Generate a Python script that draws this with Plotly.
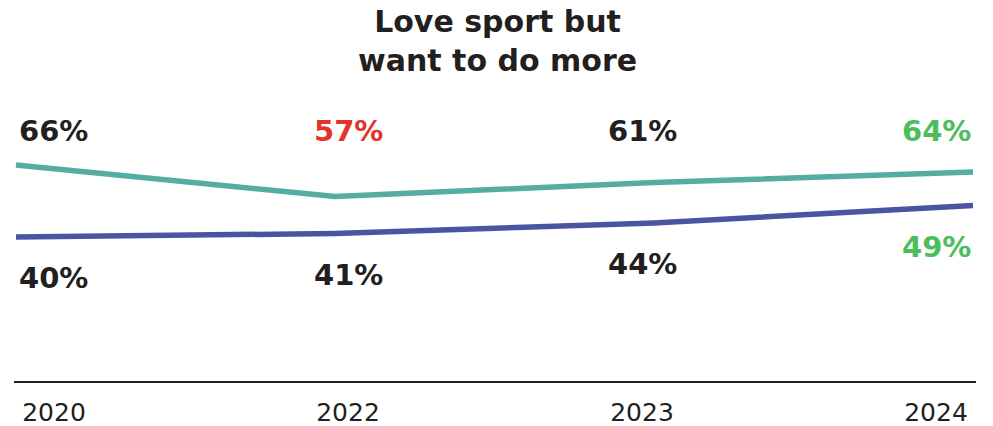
import plotly.graph_objects as go

# Survey years and shares (%)
years = ["2020", "2022", "2023", "2024"]
love_sport = [66, 57, 61, 64]
want_more = [40, 41, 44, 49]

# Label colours per year
love_label_colors = ["#231F20", "#E5332A", "#231F20", "#4BBE5B"]
more_label_colors = ["#231F20", "#231F20", "#231F20", "#4BBE5B"]

TEAL = "#55ACA1"
NAVY = "#4A54A0"
INK = "#231F20"
BOLD_FONT = "DejaVu Sans"

idx = list(range(len(years)))

fig = go.Figure()

fig.add_trace(go.Scatter(
    x=idx, y=love_sport, mode="lines",
    line=dict(color=TEAL, width=5.5),
    xaxis="x", yaxis="y2", hoverinfo="skip", showlegend=False,
))
fig.add_trace(go.Scatter(
    x=idx, y=want_more, mode="lines",
    line=dict(color=NAVY, width=5.5),
    xaxis="x", yaxis="y", hoverinfo="skip", showlegend=False,
))
# invisible trace anchoring the category axis used for labels
fig.add_trace(go.Scatter(
    x=years, y=want_more, mode="markers", marker=dict(opacity=0),
    xaxis="x2", yaxis="y", hoverinfo="skip", showlegend=False,
))

annotations = [dict(
    text="Love sport but<br>want to do more",
    x=0.5025, xref="paper", y=1.21, yref="paper",
    xanchor="center", yanchor="middle", showarrow=False,
    font=dict(family=BOLD_FONT, size=30, color=INK, weight="bold"),
)]
for i, (v, c) in enumerate(zip(love_sport, love_label_colors)):
    annotations.append(dict(
        x=i, xref="x2", y=0.8897, yref="paper",
        text=f"{v}%", showarrow=False,
        font=dict(family=BOLD_FONT, size=29, color=c, weight="bold"),
        xanchor="center", yanchor="middle",
    ))
for i, (v, c) in enumerate(zip(want_more, more_label_colors)):
    annotations.append(dict(
        x=i, xref="x2", y=v, yref="y", yshift=-41,
        text=f"{v}%", showarrow=False,
        font=dict(family=BOLD_FONT, size=29, color=c, weight="bold"),
        xanchor="center", yanchor="middle",
    ))

fig.update_layout(
    width=993, height=426,
    margin=dict(l=14, r=17, t=100, b=45),
    paper_bgcolor="white", plot_bgcolor="white",
    xaxis=dict(
        range=[-0.00627, 3.0094], visible=False, fixedrange=True,
    ),
    xaxis2=dict(
        type="category", overlaying="x", anchor="y", side="bottom",
        range=[-0.136, 3.136], automargin=False,
        showline=True, linecolor=INK, linewidth=2,
        showgrid=False, zeroline=False,
        ticks="outside", ticklen=8, tickcolor="rgba(0,0,0,0)",
        tickfont=dict(family="DejaVu Sans", size=25, color=INK),
    ),
    yaxis=dict(range=[-1.14, 79.14], visible=False, fixedrange=True),
    yaxis2=dict(range=[4.29, 84.57], overlaying="y", visible=False),
    annotations=annotations,
)

fig.write_html("out.html")
